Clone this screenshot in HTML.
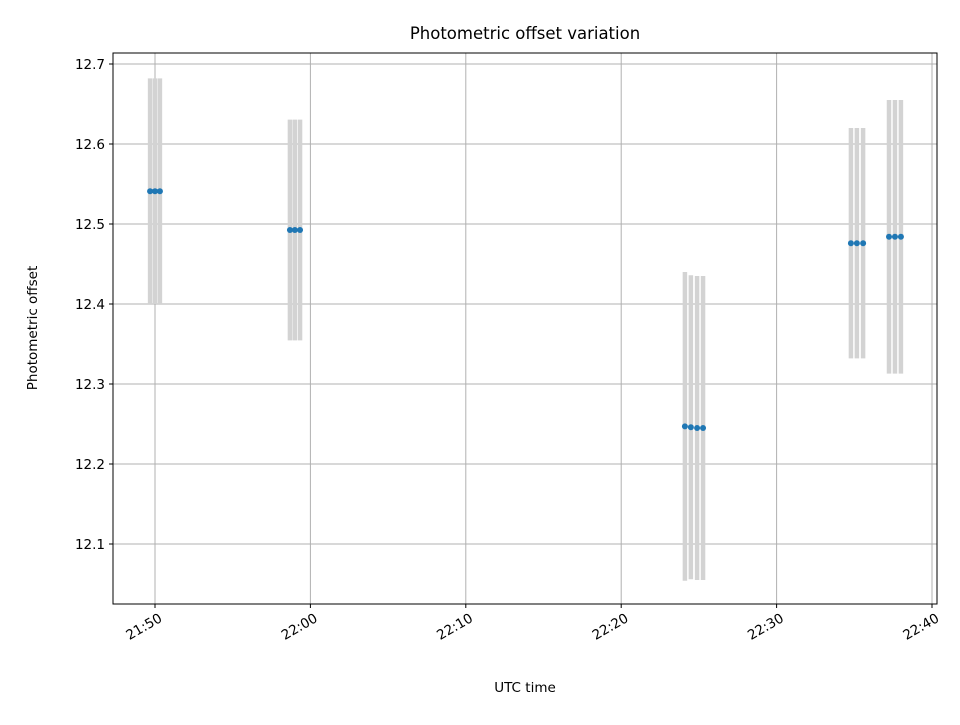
<!DOCTYPE html>
<html><head><meta charset="utf-8"><style>
body{margin:0;background:#fff}
svg{font-family:"DejaVu Sans","Liberation Sans",sans-serif}
</style></head><body>
<svg id="chart" width="960" height="720">
<rect width="960" height="720" fill="#fff"/>
<g id="grid"></g><g id="bars"></g><g id="pts"></g><g id="ticks"></g>
<rect x="113" y="53" width="824" height="551" fill="none" stroke="#000" stroke-width="1"/>
<text x="525" y="39" font-size="16.5" text-anchor="middle">Photometric offset variation</text>
<text x="525" y="692" font-size="13.5" text-anchor="middle">UTC time</text>
<text transform="translate(37,328) rotate(-90)" font-size="13.5" text-anchor="middle">Photometric offset</text>
</svg>
<script>
const times=["21:49:41","21:50:00","21:50:19","21:58:41","21:59:00","21:59:20","22:24:06","22:24:29","22:24:53","22:25:16","22:34:47","22:35:10","22:35:34","22:37:14","22:37:37","22:38:00"];
const offsets=[12.541,12.541,12.541,12.4925,12.4925,12.4925,12.247,12.246,12.245,12.245,12.476,12.476,12.476,12.484,12.484,12.484];
const errors=[0.141,0.141,0.141,0.138,0.138,0.138,0.193,0.19,0.19,0.19,0.144,0.144,0.144,0.171,0.171,0.171];
const yTicks=[12.1,12.2,12.3,12.4,12.5,12.6,12.7];
const xTicks=["21:50","22:00","22:10","22:20","22:30","22:40"];
const NS="http://www.w3.org/2000/svg";
function mins(t){const p=t.split(":").map(Number);return p[0]*60+p[1]+(p[2]||0)/60-(21*60+50);}
function X(t){return 155+mins(t)*15.54;}
function Y(v){return 544-(v-12.1)*800;}
function mk(tag,attrs,parent){const e=document.createElementNS(NS,tag);for(const k in attrs)e.setAttribute(k,attrs[k]);document.getElementById(parent).appendChild(e);return e;}
yTicks.forEach(v=>{
 const g=mk("line",{x1:113,x2:937,y1:Y(v),y2:Y(v),stroke:"#b0b0b0","stroke-width":1},"grid");
 
 
 const t=mk("line",{x1:109,x2:113,y1:Y(v),y2:Y(v),stroke:"#000"},"ticks");
 
 
 const l=mk("text",{x:105,y:Y(v)+5,"font-size":13.5,"text-anchor":"end"},"ticks");
 l.textContent=v.toFixed(1);
 
 
});
xTicks.forEach(s=>{
 const x=X(s);
 const g=mk("line",{x1:x,x2:x,y1:53,y2:604,stroke:"#b0b0b0","stroke-width":1},"grid");
 
 
 const t=mk("line",{x1:x,x2:x,y1:604,y2:608,stroke:"#000"},"ticks");
 
 
 const l=mk("text",{transform:`translate(${x+3},${612}) rotate(-30)`,"font-size":13.5,"text-anchor":"end",dy:"0.75em"},"ticks");
 l.textContent=s;
 
 
});
times.forEach((t,i)=>{
 const x=X(t);
 const b=mk("line",{x1:x,x2:x,y1:Y(offsets[i]+errors[i]),y2:Y(offsets[i]-errors[i]),stroke:"#d3d3d3","stroke-width":4.5},"bars");
 
 
});
times.forEach((t,i)=>{
 const c=mk("circle",{cx:X(t),cy:Y(offsets[i]),r:3,fill:"#1f77b4"},"pts");
 
 
});
</script>
</body></html>
